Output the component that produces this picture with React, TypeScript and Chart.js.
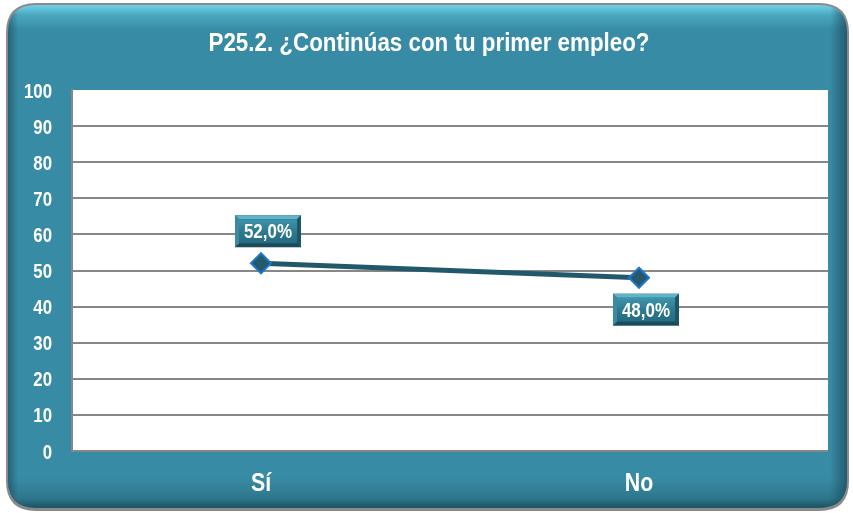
import React, { useEffect, useRef } from "react";
import { Chart, registerables } from "chart.js";

Chart.register(...registerables);

const title = "P25.2. ¿Continúas con tu primer empleo?";
const categories = ["Sí", "No"];
const values = [52.0, 48.0];
const valueLabels = ["52,0%", "48,0%"];
const labelSide = ["above", "below"];

const FONT = '"Liberation Sans", Arial, sans-serif';
const NARROW = 0.83;

function roundRect(ctx: CanvasRenderingContext2D, x: number, y: number, w: number, h: number, r: number) {
  ctx.beginPath();
  ctx.moveTo(x + r, y);
  ctx.lineTo(x + w - r, y);
  ctx.quadraticCurveTo(x + w, y, x + w, y + r);
  ctx.lineTo(x + w, y + h - r);
  ctx.quadraticCurveTo(x + w, y + h, x + w - r, y + h);
  ctx.lineTo(x + r, y + h);
  ctx.quadraticCurveTo(x, y + h, x, y + h - r);
  ctx.lineTo(x, y + r);
  ctx.quadraticCurveTo(x, y, x + r, y);
  ctx.closePath();
}

function narrowText(
  ctx: CanvasRenderingContext2D,
  text: string,
  x: number,
  y: number,
  size: number,
  align: CanvasTextAlign,
  sx: number = NARROW
) {
  ctx.save();
  ctx.translate(x, y);
  ctx.scale(sx, 1);
  ctx.fillStyle = "#ffffff";
  ctx.font = "bold " + size + "px " + FONT;
  ctx.textAlign = align;
  ctx.textBaseline = "alphabetic";
  ctx.fillText(text, 0, 0);
  ctx.restore();
}

const panelPlugin = {
  id: "panel",
  beforeDraw(chart: any) {
    const ctx = chart.ctx as CanvasRenderingContext2D;
    const W = chart.width, H = chart.height;
    ctx.save();
    ctx.fillStyle = "#ffffff";
    ctx.fillRect(0, 0, W, H);
    roundRect(ctx, 6, 3, W - 10, H - 5, 30);
    ctx.fillStyle = "#8a8a8a";
    ctx.fill();
    roundRect(ctx, 8, 5, W - 14, H - 10, 28);
    const g = ctx.createLinearGradient(0, 5, 0, H - 5);
    g.addColorStop(0, "#6fd2ea");
    g.addColorStop(0.02, "#4aa7c0");
    g.addColorStop(0.05, "#388ba4");
    g.addColorStop(0.94, "#388ba4");
    g.addColorStop(0.98, "#2e778d");
    g.addColorStop(1, "#1d5263");
    ctx.fillStyle = g;
    ctx.fill();
    roundRect(ctx, 8, 5, W - 14, H - 10, 28);
    ctx.clip();
    const gs = ctx.createLinearGradient(8, 0, W - 6, 0);
    gs.addColorStop(0, "rgba(20,60,75,0.5)");
    gs.addColorStop(0.012, "rgba(20,60,75,0)");
    gs.addColorStop(0.98, "rgba(20,60,75,0)");
    gs.addColorStop(1, "rgba(20,60,75,0.6)");
    ctx.fillStyle = gs;
    ctx.fillRect(0, 0, W, H);
    ctx.restore();

    const a = chart.chartArea;
    ctx.save();
    ctx.fillStyle = "#ffffff";
    ctx.fillRect(a.left, a.top, a.right - a.left, a.bottom - a.top);
    ctx.restore();
    narrowText(ctx, title, 429, 51, 26, "center", 0.86);
  },
  afterDraw(chart: any) {
    const ctx = chart.ctx as CanvasRenderingContext2D;
    const ys = chart.scales.y;
    ys.ticks.forEach((t: any, i: number) => {
      const py = ys.getPixelForTick(i);
      narrowText(ctx, String(t.label), ys.right - 20, py + 7.5, 20.5, "right", 0.82);
    });
    const xs = chart.scales.x;
    xs.ticks.forEach((t: any, i: number) => {
      const px = xs.getPixelForTick(i);
      narrowText(ctx, String(categories[t.value] ?? t.label), px, xs.top + 40, 26, "center", 0.82);
    });
  },
};

const labelPlugin = {
  id: "valueLabels",
  afterDatasetsDraw(chart: any) {
    const ctx = chart.ctx as CanvasRenderingContext2D;
    const meta = chart.getDatasetMeta(0);
    meta.data.forEach((pt: any, i: number) => {
      const w = 66, h = 32;
      const cx = pt.x + 7;
      const cy = labelSide[i] === "above" ? pt.y - 32 : pt.y + 32;
      const x = cx - w / 2, y = cy - h / 2;
      const b = 4;
      ctx.save();
      // base dark
      ctx.fillStyle = "#1b4b5a";
      ctx.fillRect(x, y, w, h);
      // top bevel (light)
      ctx.fillStyle = "#5fb4cb";
      ctx.beginPath();
      ctx.moveTo(x, y);
      ctx.lineTo(x + w, y);
      ctx.lineTo(x + w - b, y + b);
      ctx.lineTo(x + b, y + b);
      ctx.closePath();
      ctx.fill();
      // left bevel
      ctx.fillStyle = "#3c8aa0";
      ctx.beginPath();
      ctx.moveTo(x, y);
      ctx.lineTo(x + b, y + b);
      ctx.lineTo(x + b, y + h - b);
      ctx.lineTo(x, y + h);
      ctx.closePath();
      ctx.fill();
      // right bevel
      ctx.fillStyle = "#1f5666";
      ctx.beginPath();
      ctx.moveTo(x + w, y);
      ctx.lineTo(x + w, y + h);
      ctx.lineTo(x + w - b, y + h - b);
      ctx.lineTo(x + w - b, y + b);
      ctx.closePath();
      ctx.fill();
      // face
      const g = ctx.createLinearGradient(0, y + b, 0, y + h - b);
      g.addColorStop(0, "#3f94ab");
      g.addColorStop(0.5, "#2d7a90");
      g.addColorStop(1, "#256b80");
      ctx.fillStyle = g;
      ctx.fillRect(x + b, y + b, w - 2 * b, h - 2 * b);
      ctx.restore();
      narrowText(ctx, valueLabels[i], cx, cy + 7, 20, "center", 0.85);
    });
  },
};

export default function App() {
  const ref = useRef<HTMLCanvasElement | null>(null);
  useEffect(() => {
    const chart = new Chart(ref.current as HTMLCanvasElement, {
      type: "line",
      data: {
        labels: categories,
        datasets: [
          {
            data: values,
            borderColor: "#22596a",
            borderWidth: 5,
            pointStyle: "rectRot",
            pointRadius: 10,
            pointBackgroundColor: "#245a6c",
            pointBorderColor: "#1f78cc",
            pointBorderWidth: 2,
            tension: 0,
          },
        ],
      },
      options: {
        animation: false,
        responsive: false,
        maintainAspectRatio: false,
        layout: { padding: { left: 0, right: 25, top: 90, bottom: 0 } },
        plugins: { legend: { display: false }, tooltip: { enabled: false }, title: { display: false } },
        scales: {
          x: {
            offset: true,
            afterFit(s: any) {
              s.height = 62;
            },
            grid: { display: false, drawTicks: false },
            border: { display: false },
            ticks: { display: false },
          },
          y: {
            min: 0,
            max: 100,
            afterFit(s: any) {
              s.width = 72;
            },
            grid: {
              drawTicks: false,
              lineWidth: 2,
              color: (c: any) => (c.tick && c.tick.value === 100 ? "rgba(0,0,0,0)" : "#878787"),
            },
            border: { display: true, color: "#878787", width: 2 },
            ticks: { stepSize: 10, display: false },
          },
        },
      },
      plugins: [panelPlugin, labelPlugin],
    } as any);
    return () => chart.destroy();
  }, []);
  return (
    <div style={{ position: "fixed", left: 0, top: 0, width: 853, height: 513 }}>
      <canvas ref={ref} width={853} height={513} style={{ width: 853, height: 513, display: "block" }} />
    </div>
  );
}
